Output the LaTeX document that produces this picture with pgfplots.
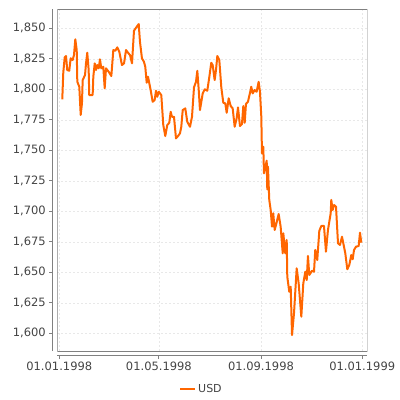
\documentclass[border=0pt]{standalone}
\usepackage{pgfplots}
\pgfplotsset{compat=1.18}
\usepackage{pgfplotstable}
\usepackage{fontspec}
\setmainfont{DejaVu Sans}
\definecolor{usd}{RGB}{255,102,0}
\definecolor{axgray}{RGB}{128,128,128}
\definecolor{txtgray}{RGB}{68,68,68}
\definecolor{gridgray}{RGB}{232,232,232}
\pgfplotstableread{
day value
3.6 1.7918
4.8 1.8136
6.5 1.8262
8.1 1.8273
9.6 1.8158
12.0 1.8152
13.7 1.8254
16.1 1.8240
17.7 1.8281
19.3 1.8410
21.0 1.8322
21.7 1.8062
24.1 1.8021
25.8 1.7790
27.3 1.7885
28.2 1.8076
31.0 1.8117
32.2 1.8213
33.7 1.8300
35.4 1.8158
36.1 1.7953
40.2 1.7953
41.0 1.8103
42.7 1.8213
44.2 1.8158
45.8 1.8199
47.5 1.8172
49.0 1.8246
50.6 1.8172
53.0 1.8185
54.7 1.8008
56.3 1.8172
59.5 1.8144
62.7 1.8109
65.1 1.8322
67.5 1.8316
69.9 1.8344
72.3 1.8308
75.5 1.8199
78.0 1.8213
80.4 1.8322
82.8 1.8300
85.2 1.8281
87.6 1.8213
90.0 1.8480
93.3 1.8513
95.7 1.8535
97.2 1.8390
99.6 1.8254
102.0 1.8226
103.6 1.8185
105.3 1.8054
106.9 1.8103
110.1 1.7994
112.5 1.7898
114.9 1.7912
116.5 1.7989
118.1 1.7939
119.8 1.7980
122.9 1.7953
125.3 1.7707
127.7 1.7617
130.1 1.7707
132.5 1.7726
134.2 1.7816
135.8 1.7775
138.2 1.7775
140.6 1.7598
143.0 1.7617
145.4 1.7639
147.0 1.7693
148.7 1.7830
151.8 1.7844
154.2 1.7734
157.5 1.7693
159.9 1.7775
162.3 1.8016
164.7 1.8062
166.3 1.8152
168.0 1.7994
169.5 1.7830
172.8 1.7967
175.2 1.8000
178.3 1.7989
180.7 1.8098
183.1 1.8218
184.8 1.8199
187.2 1.8076
188.8 1.8158
190.4 1.8273
192.8 1.8240
195.2 1.8016
197.6 1.7890
200.0 1.7885
201.7 1.7808
204.1 1.7926
206.5 1.7863
208.9 1.7844
211.3 1.7693
213.7 1.7762
215.3 1.7852
217.7 1.7699
220.1 1.7716
221.7 1.7863
223.4 1.7726
224.9 1.7880
227.3 1.7898
229.8 1.7972
231.3 1.8021
233.0 1.7967
235.4 1.7994
237.8 1.7980
240.2 1.8062
241.8 1.7980
243.4 1.7775
244.2 1.7475
245.8 1.7530
246.6 1.7311
248.2 1.7366
249.9 1.7415
250.6 1.7180
251.4 1.7366
253.0 1.7093
254.7 1.7011
256.3 1.6874
257.8 1.6984
259.5 1.6847
261.1 1.6888
264.3 1.6978
266.7 1.6874
269.2 1.6656
269.9 1.6820
272.3 1.6656
274.0 1.6765
274.7 1.6464
277.1 1.6341
278.8 1.6382
280.4 1.5986
282.8 1.6164
286.0 1.6533
288.4 1.6410
291.6 1.6136
294.0 1.6410
296.4 1.6505
298.1 1.6437
299.6 1.6634
301.2 1.6478
304.5 1.6513
306.9 1.6505
308.4 1.6683
310.8 1.6601
313.3 1.6841
315.7 1.6880
318.9 1.6880
321.3 1.6669
323.7 1.6847
327.0 1.6984
327.7 1.7093
329.4 1.7011
331.0 1.7052
333.4 1.7038
335.8 1.6738
338.2 1.6724
340.6 1.6792
342.2 1.6738
344.6 1.6656
347.0 1.6525
349.4 1.6560
351.8 1.6642
353.5 1.6607
355.1 1.6683
357.5 1.6710
360.7 1.6716
362.3 1.6825
363.9 1.6743
}\usd
\begin{document}
\begin{tikzpicture}
\begin{axis}[
  at={(0,0)}, anchor=south west,
  scale only axis,
  width=310pt, height=341.7pt,
  xmin=-2.4, xmax=371.1,
  ymin=1.5855, ymax=1.8656,
  axis lines*=left,
  axis line style={axgray, line width=1pt, -},
  axis x line shift=4.7pt,
  axis y line shift=5pt,
  xtick={0,120,243,365},
  xticklabels={01.01.1998,01.05.1998,01.09.1998,01.01.1999},
  ytick={1.6,1.625,1.65,1.675,1.7,1.725,1.75,1.775,1.8,1.825,1.85},
  yticklabels={1{,}600,1{,}625,1{,}650,1{,}675,1{,}700,1{,}725,1{,}750,1{,}775,1{,}800,1{,}825,1{,}850},
  tick align=outside,
  major tick length=3pt,
  tick style={axgray, line width=0.8pt},
  ticklabel style={font=\fontsize{11.5}{13}\selectfont, text=txtgray},
  xtick pos=bottom, ytick pos=left,
  grid=major,
  major grid style={gridgray, dash pattern=on 2pt off 2pt, line width=0.6pt},
  legend style={at={(axis description cs:0.3926,-0.112)}, anchor=west, draw=none, fill=none, inner sep=0pt,
    font=\fontsize{11}{13}\selectfont, text=txtgray},
  legend cell align=left,
  legend image code/.code={\draw[usd, line width=2pt] (0pt,0pt) -- (15pt,0pt);},
]
\draw[axgray, line width=1pt] (rel axis cs:0,0) rectangle (rel axis cs:1,1);
\addplot[usd, line width=2pt, line join=round, mark=none] table[x=day, y=value] {\usd};
\addlegendentry{USD}
\end{axis}
\path[use as bounding box] (-57.3pt,-49pt) rectangle (342.7pt,351pt);
\end{tikzpicture}
\end{document}
